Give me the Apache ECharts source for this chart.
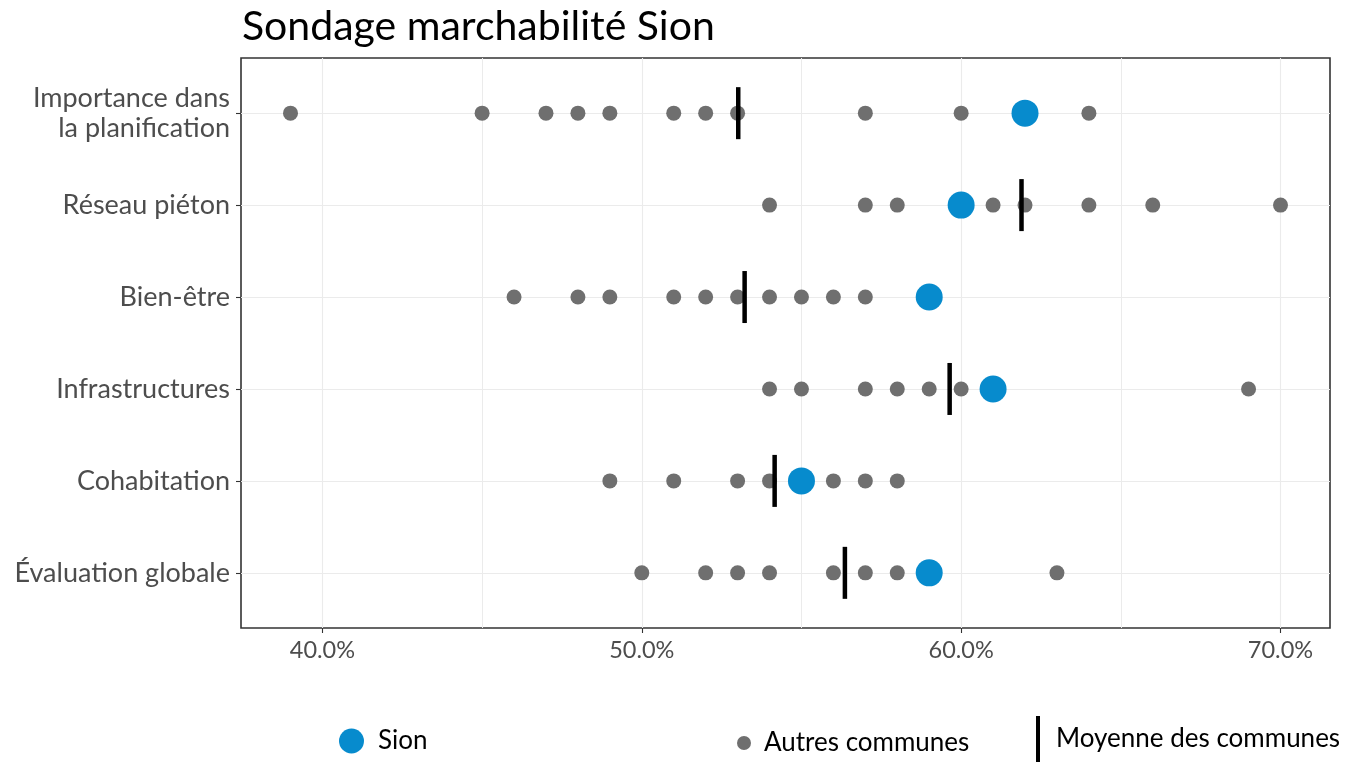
<!DOCTYPE html>
<html>
<head>
<meta charset="utf-8">
<script src="https://cdn.jsdelivr.net/npm/echarts@6/dist/echarts.min.js"></script>
<style>html,body{margin:0;padding:0;background:#fff}#c{width:1358px;height:763px}</style>
</head>
<body>
<div id="c"></div>
<script>
// Categories, bottom to top
const categories = ['Évaluation globale', 'Cohabitation', 'Infrastructures', 'Bien-être', 'Réseau piéton', 'Importance dans\nla planification'];
// Other communes (percent), per category in the same order
const autresEvaluation = [50, 52, 53, 54, 56, 57, 58, 63];
const autresCohabitation = [49, 51, 53, 54, 56, 57, 58];
const autresInfrastructures = [54, 55, 57, 58, 59, 60, 69];
const autresBienEtre = [46, 48, 49, 51, 52, 53, 54, 55, 56, 57];
const autresReseau = [54, 57, 58, 61, 62, 64, 66, 70];
const autresImportance = [39, 45, 47, 48, 49, 51, 52, 53, 57, 60, 64];
// Sion values
const sionValues = [59, 55, 61, 59, 60, 62];
// Mean of communes
const moyenneValues = [56.36, 54.16, 59.64, 53.22, 61.89, 53.02];
// Tick labels
const xTicks = [40, 50, 60, 70];
const xMinorTicks = [45, 55, 65];

const autres = [autresEvaluation, autresCohabitation, autresInfrastructures, autresBienEtre, autresReseau, autresImportance];
const rows = categories.map((c, i) => i + 1);

const autresData = [];
autres.forEach((arr, i) => arr.forEach(v => autresData.push([v, i + 1])));
const sionData = sionValues.map((v, i) => [v, i + 1]);
const moyData = moyenneValues.map((v, i) => [v, i + 1]);

const FONT = 'Lato';
const GRID = '#EBEBEB';

const chart = echarts.init(document.getElementById('c'), null, {renderer: 'canvas'});
chart.setOption({
  backgroundColor: '#ffffff',
  animation: false,
  textStyle: {fontFamily: FONT},
  title: {
    text: 'Sondage marchabilité Sion',
    left: 237, top: 1,
    textStyle: {fontFamily: FONT, fontSize: 41, fontWeight: 'normal', color: '#000000'}
  },
  grid: {
    left: 241, right: 28, top: 58, bottom: 135,
    show: true, borderColor: '#333333', borderWidth: 1.6, backgroundColor: 'transparent'
  },
  xAxis: {
    type: 'value', min: 37.45, max: 71.55,
    axisLine: {show: false},
    splitLine: {show: false},
    axisTick: {show: true, length: 5, lineStyle: {color: '#333333', width: 1.1}, customValues: xTicks},
    axisLabel: {
      customValues: xTicks, margin: 10,
      formatter: v => v.toFixed(1) + '%',
      fontFamily: FONT, fontSize: 23.5, color: '#4D4D4D'
    }
  },
  yAxis: {
    type: 'value', min: 0.4, max: 6.6,
    axisLine: {show: false},
    splitLine: {show: false},
    axisTick: {show: true, length: 5, lineStyle: {color: '#333333', width: 1.1}, customValues: rows},
    axisLabel: {
      customValues: rows, margin: 11,
      formatter: v => categories[Math.round(v) - 1] || '',
      fontFamily: FONT, fontSize: 27, color: '#4D4D4D', align: 'right', lineHeight: 30
    }
  },
  legend: [
    {
      data: [{name: 'Sion', icon: 'circle'}],
      left: 339, top: 728, itemWidth: 25, itemHeight: 25, padding: 0,
      textStyle: {fontFamily: FONT, fontSize: 26, color: '#000000', padding: [0, 0, 0, 9]}
    },
    {
      data: [{name: 'Autres communes', icon: 'circle'}],
      left: 737, top: 730, itemWidth: 14, itemHeight: 14, padding: 0,
      textStyle: {fontFamily: FONT, fontSize: 26, color: '#000000', padding: [0, 0, 0, 8]}
    },
    {
      data: [{name: 'Moyenne des communes', icon: 'rect'}],
      left: 1036, top: 716, itemWidth: 4, itemHeight: 46, padding: 0,
      textStyle: {fontFamily: FONT, fontSize: 26, color: '#000000', padding: [0, 0, 0, 11]}
    }
  ],
  series: [
    {
      name: 'grid', type: 'scatter', data: [], z: 1, zlevel: 0, silent: true,
      markLine: {
        silent: true, symbol: ['none', 'none'], label: {show: false}, animation: false,
        lineStyle: {color: GRID, width: 1.1, type: 'solid'},
        data: xTicks.map(v => ({xAxis: v}))
          .concat(xMinorTicks.map(v => ({xAxis: v, lineStyle: {color: GRID, width: 1, type: 'solid'}})))
          .concat(rows.map(v => ({yAxis: v})))
      }
    },
    {
      name: 'Autres communes', type: 'scatter', data: autresData, z: 3, zlevel: 1,
      symbol: 'circle', symbolSize: 15,
      itemStyle: {color: '#6F6F6F', opacity: 1}
    },
    {
      name: 'Sion', type: 'scatter', data: sionData, z: 4, zlevel: 1,
      symbol: 'circle', symbolSize: 27,
      itemStyle: {color: '#078BCD', opacity: 1}
    },
    {
      name: 'Moyenne des communes', type: 'scatter', data: moyData, z: 5, zlevel: 1,
      symbol: 'rect', symbolSize: [4.5, 52],
      itemStyle: {color: '#000000', opacity: 1}
    }
  ]
});
</script>
</body>
</html>
